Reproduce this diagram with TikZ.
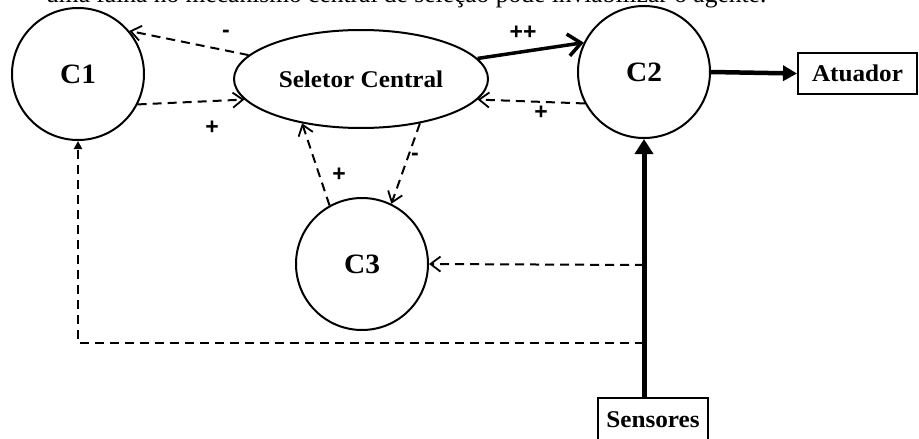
\documentclass[tikz,border=0pt]{standalone}
\usepackage{fontspec}
\setmainfont{Liberation Serif}
\newfontfamily\lblfont[FakeStretch=1.05]{Liberation Serif}
\newfontfamily\signfont{Liberation Sans}
\usetikzlibrary{arrows.meta,shapes.geometric}
\begin{document}
\begin{tikzpicture}[x=1pt,y=-1pt,
  lbl/.style={font=\lblfont\bfseries\fontsize{24}{28}\selectfont},
  unit/.style={circle,draw,line width=2pt,minimum size=132pt,inner sep=0pt,
    font=\lblfont\bfseries\fontsize{28}{32}\selectfont},
  selector/.style={ellipse,draw,line width=2pt,minimum width=254pt,minimum height=98pt,inner sep=0pt,lbl},
  iobox/.style={rectangle,draw,line width=2pt,inner sep=0pt,lbl},
  sign/.style={inner sep=0pt,font=\signfont\bfseries\fontsize{23}{26}\selectfont},
  weak/.style={line width=2pt,dash pattern=on 9pt off 6pt,
    -{Straight Barb[length=10pt,width=15pt,line width=1.8pt]}},
  strong/.style={line width=3.5pt,-{Straight Barb[length=13pt,width=22pt,line width=3.5pt]}},
  signal/.style={line width=5pt,-{Triangle[length=15pt,width=18pt]}},
  feedback/.style={line width=2pt,dash pattern=on 9pt off 6pt,-{Triangle[length=8pt,width=8pt]}}
]
\useasboundingbox (0,0) rectangle (919,439);

% sentence running over the top edge
\node[anchor=base west,inner sep=0pt,font=\fontsize{25.5}{30}\selectfont] (topline) at (46,2.5)
  {uma falha no mecanismo central de seleção pode inviabilizar o agente.};

% behaviour modules and the central selector
\node[unit] (C1) at (78,74) {C1};
\node[selector] (Sel) at (361,79) {Seletor Central};
\node[unit] (C2) at (644,72) {C2};
\node[unit] (C3) at (362,264) {C3};

% input and output boxes
\node[iobox,minimum width=119pt,minimum height=41pt] (Act) at (857.5,73.5) {Atuador};
\node[iobox,minimum width=110pt,minimum height=44pt] (Sens) at (653,420) {Sensores};

% taps on the sensor line
\coordinate (tap3) at (644,265);
\coordinate (tap1) at (644,343);
\coordinate (corner) at (78,343);

% selector links
\draw[weak] (Sel.168) -- (C1.40);
\draw[weak] (C1.-27) -- (Sel.190);
\draw[strong] (Sel.10) -- (C2.154);
\draw[weak] (C2.208) -- (Sel.-10);
\draw[weak] (C3.119) -- (Sel.217);
\draw[weak] (Sel.-37) -- (C3.64);

% sensor and actuator paths
\draw[signal] (Sens.north -| C2.south) -- (C2.south);
\draw[signal,line width=4.5pt,-{Triangle[length=14pt,width=15pt]}] (C2.east) -- (Act.west);
\draw[weak] (tap3) -- (C3.east);
\draw[feedback] (tap1) -- (corner) -- (C1.south);

% link signs
\node[sign] (mC1) at (226,34) {-};
\node[sign] (pC1) at (212,128) {+};
\node[sign] (pp) at (523,33) {++};
\node[sign] (pC2) at (541,113) {+};
\node[sign] (pC3) at (339,175) {+};
\node[sign] (mC3) at (415,157) {-};
\end{tikzpicture}
\end{document}
